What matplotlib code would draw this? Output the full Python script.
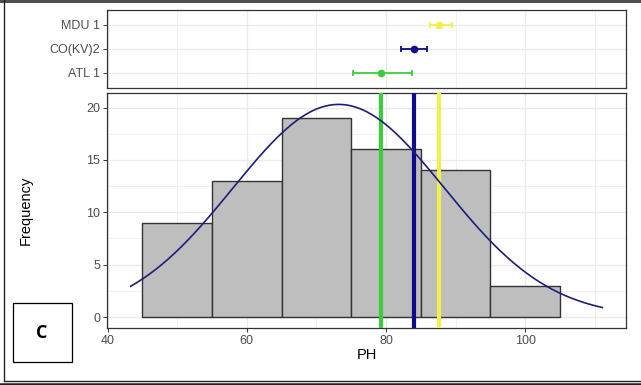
import numpy as np
import matplotlib
matplotlib.use('Agg')
import matplotlib.pyplot as plt
from matplotlib.patches import Rectangle
from matplotlib.lines import Line2D

plt.rcParams['font.family'] = ['Liberation Sans', 'DejaVu Sans']

# histogram of PH
bin_edges = [45, 55, 65, 75, 85, 95, 105]
counts = [9, 13, 19, 16, 14, 3]

# fitted normal curve
fit_mean = 73.2
fit_sd = 15.2
fit_peak = 20.3
curve_from, curve_to = 43.3, 111.1

# group means with intervals
groups = ['ATL 1', 'CO(KV)2', 'MDU 1']
group_mean = [79.3, 84.0, 87.6]
group_low = [75.2, 82.2, 86.3]
group_high = [83.7, 85.9, 89.5]
group_col = ['#3FCB3F', '#0B0B8C', '#F2F04A']

W, H = 641, 385
fig = plt.figure(figsize=(W / 100, H / 100), dpi=100)


def px_axes(l, t, r, b):
    return fig.add_axes([l / W, 1 - b / H, (r - l) / W, (b - t) / H])


grid_c = '#EBEBEB'
border_c = '#333333'
tick_c = '#4D4D4D'
xlim = (39.9, 114.5)


def style(ax):
    ax.set_facecolor('white')
    for s in ax.spines.values():
        s.set_color(border_c)
        s.set_linewidth(0.9)
    ax.tick_params(colors=border_c, labelcolor=tick_c, labelsize=9,
                   length=3, width=0.7, pad=2)
    ax.set_axisbelow(True)


# ---- top panel: means with error bars
top = px_axes(107, 10, 626, 87.5)
style(top)
top.set_xlim(*xlim)
top.set_ylim(0.4, 3.6)
for xv in [40, 60, 80, 100]:
    top.axvline(xv, color=grid_c, lw=1.0, zorder=0)
for xv in [50, 70, 90, 110]:
    top.axvline(xv, color=grid_c, lw=0.5, zorder=0)
for i in range(len(groups)):
    top.axhline(i + 1, color=grid_c, lw=1.0, zorder=0)
    top.errorbar(group_mean[i], i + 1,
                 xerr=[[group_mean[i] - group_low[i]], [group_high[i] - group_mean[i]]],
                 fmt='o', color=group_col[i], ms=4.5, elinewidth=1.3,
                 capsize=2.5, capthick=1.3)
top.set_yticks(range(1, len(groups) + 1))
top.set_yticklabels(groups, color=tick_c)
top.set_xticks([])

# ---- bottom panel: histogram
ax = px_axes(107, 93, 626, 328)
style(ax)
ax.set_xlim(*xlim)
ax.set_ylim(-1.05, 21.39)
for xv in [40, 60, 80, 100]:
    ax.axvline(xv, color=grid_c, lw=1.0, zorder=0)
for xv in [50, 70, 90, 110]:
    ax.axvline(xv, color=grid_c, lw=0.5, zorder=0)
for yv in [0, 5, 10, 15, 20]:
    ax.axhline(yv, color=grid_c, lw=1.0, zorder=0)
for yv in [2.5, 7.5, 12.5, 17.5]:
    ax.axhline(yv, color=grid_c, lw=0.5, zorder=0)

widths = np.diff(bin_edges)
ax.bar(bin_edges[:-1], counts, width=widths, align='edge',
       color='#BEBEBE', edgecolor='#333333', linewidth=1.0, zorder=2)

for i in range(len(groups)):
    ax.axvline(group_mean[i], color=group_col[i], lw=3.0, zorder=3)

xs = np.linspace(curve_from, curve_to, 300)
ys = fit_peak * np.exp(-0.5 * ((xs - fit_mean) / fit_sd) ** 2)
ax.plot(xs, ys, color='#1E1E7A', lw=1.2, zorder=4)

ax.set_xticks([40, 60, 80, 100])
ax.set_yticks([0, 5, 10, 15, 20])
ax.set_xlabel('PH', fontsize=10.5, labelpad=1)
ax.set_ylabel('Frequency', fontsize=10.5)
ax.yaxis.set_label_coords((33 - 107) / 519, 0.5)

# ---- frame and panel label
fig.add_artist(Rectangle((0, 1 - 2.5 / H), 1, 2.5 / H, transform=fig.transFigure,
                         facecolor='#505050', edgecolor='none'))
fig.add_artist(Line2D([4 / W, 4 / W], [1 - 380 / H, 1], transform=fig.transFigure,
                      color='#222222', lw=1.0))
fig.add_artist(Line2D([4 / W, 1], [1 - 380.5 / H, 1 - 380.5 / H],
                      transform=fig.transFigure, color='#222222', lw=1.0))
fig.add_artist(Line2D([0, 1], [1 - 383.5 / H, 1 - 383.5 / H],
                      transform=fig.transFigure, color='#222222', lw=1.8))

fig.add_artist(Rectangle((13 / W, 1 - 362 / H), 59 / W, 59 / H,
                         transform=fig.transFigure, facecolor='white',
                         edgecolor='black', lw=0.9))
fig.text(42 / W, 1 - 333 / H, 'C', fontsize=13, fontweight='bold',
         family=['Open Sans', 'DejaVu Sans'], ha='center', va='center')

fig.savefig('out.png', dpi=100)
